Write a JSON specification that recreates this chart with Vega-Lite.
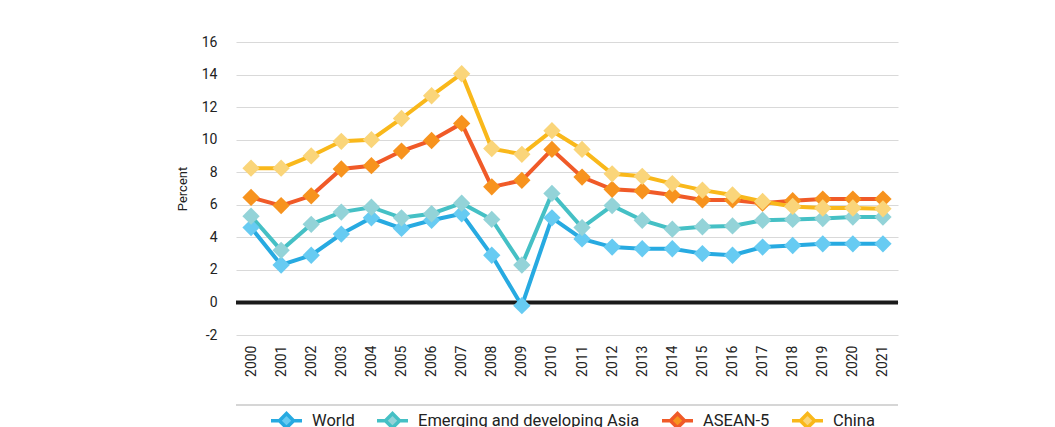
{
  "$schema": "https://vega.github.io/schema/vega-lite/v6.json",
  "width": 662,
  "height": 293,
  "autosize": {"type": "none"},
  "padding": {"left": 236, "top": 42, "right": 157, "bottom": 92},
  "background": "white",
  "config": {
    "font": "Roboto",
    "view": {"stroke": null},
    "axis": {"labelFont": "Roboto", "labelFontSize": 14, "labelColor": "#222222", "titleFont": "Roboto", "titleColor": "#222222"},
    "axisX": {"labelAngle": -90, "labelPadding": 10, "domain": false, "ticks": false, "grid": false, "labelOverlap": false},
    "axisY": {"domain": false, "ticks": false, "grid": true, "gridColor": "#d9d9d9", "gridWidth": 1, "labelPadding": 19, "labelOverlap": false, "tickCount": 30,
              "titleFontSize": 13, "titleFontWeight": "normal", "titlePadding": 12},
    "legend": {"labelLimit": 500}
  },
  "data": {"values": [
    {"year": "2000", "series": "World", "value": 4.6},
    {"year": "2001", "series": "World", "value": 2.3},
    {"year": "2002", "series": "World", "value": 2.9},
    {"year": "2003", "series": "World", "value": 4.2},
    {"year": "2004", "series": "World", "value": 5.2},
    {"year": "2005", "series": "World", "value": 4.55},
    {"year": "2006", "series": "World", "value": 5.05},
    {"year": "2007", "series": "World", "value": 5.45},
    {"year": "2008", "series": "World", "value": 2.9},
    {"year": "2009", "series": "World", "value": -0.2},
    {"year": "2010", "series": "World", "value": 5.2},
    {"year": "2011", "series": "World", "value": 3.9},
    {"year": "2012", "series": "World", "value": 3.4},
    {"year": "2013", "series": "World", "value": 3.3},
    {"year": "2014", "series": "World", "value": 3.3},
    {"year": "2015", "series": "World", "value": 3.0},
    {"year": "2016", "series": "World", "value": 2.9},
    {"year": "2017", "series": "World", "value": 3.4},
    {"year": "2018", "series": "World", "value": 3.5},
    {"year": "2019", "series": "World", "value": 3.6},
    {"year": "2020", "series": "World", "value": 3.6},
    {"year": "2021", "series": "World", "value": 3.6},
    {"year": "2000", "series": "Emerging and developing Asia", "value": 5.3},
    {"year": "2001", "series": "Emerging and developing Asia", "value": 3.2},
    {"year": "2002", "series": "Emerging and developing Asia", "value": 4.8},
    {"year": "2003", "series": "Emerging and developing Asia", "value": 5.55},
    {"year": "2004", "series": "Emerging and developing Asia", "value": 5.85},
    {"year": "2005", "series": "Emerging and developing Asia", "value": 5.2},
    {"year": "2006", "series": "Emerging and developing Asia", "value": 5.45},
    {"year": "2007", "series": "Emerging and developing Asia", "value": 6.1},
    {"year": "2008", "series": "Emerging and developing Asia", "value": 5.1},
    {"year": "2009", "series": "Emerging and developing Asia", "value": 2.3},
    {"year": "2010", "series": "Emerging and developing Asia", "value": 6.7},
    {"year": "2011", "series": "Emerging and developing Asia", "value": 4.6},
    {"year": "2012", "series": "Emerging and developing Asia", "value": 5.95},
    {"year": "2013", "series": "Emerging and developing Asia", "value": 5.05},
    {"year": "2014", "series": "Emerging and developing Asia", "value": 4.5},
    {"year": "2015", "series": "Emerging and developing Asia", "value": 4.65},
    {"year": "2016", "series": "Emerging and developing Asia", "value": 4.7},
    {"year": "2017", "series": "Emerging and developing Asia", "value": 5.05},
    {"year": "2018", "series": "Emerging and developing Asia", "value": 5.1},
    {"year": "2019", "series": "Emerging and developing Asia", "value": 5.15},
    {"year": "2020", "series": "Emerging and developing Asia", "value": 5.25},
    {"year": "2021", "series": "Emerging and developing Asia", "value": 5.25},
    {"year": "2000", "series": "ASEAN-5", "value": 6.45},
    {"year": "2001", "series": "ASEAN-5", "value": 5.95},
    {"year": "2002", "series": "ASEAN-5", "value": 6.55},
    {"year": "2003", "series": "ASEAN-5", "value": 8.2},
    {"year": "2004", "series": "ASEAN-5", "value": 8.4},
    {"year": "2005", "series": "ASEAN-5", "value": 9.3},
    {"year": "2006", "series": "ASEAN-5", "value": 9.95},
    {"year": "2007", "series": "ASEAN-5", "value": 11.0},
    {"year": "2008", "series": "ASEAN-5", "value": 7.1},
    {"year": "2009", "series": "ASEAN-5", "value": 7.5},
    {"year": "2010", "series": "ASEAN-5", "value": 9.4},
    {"year": "2011", "series": "ASEAN-5", "value": 7.7},
    {"year": "2012", "series": "ASEAN-5", "value": 6.95},
    {"year": "2013", "series": "ASEAN-5", "value": 6.85},
    {"year": "2014", "series": "ASEAN-5", "value": 6.6},
    {"year": "2015", "series": "ASEAN-5", "value": 6.3},
    {"year": "2016", "series": "ASEAN-5", "value": 6.3},
    {"year": "2017", "series": "ASEAN-5", "value": 6.1},
    {"year": "2018", "series": "ASEAN-5", "value": 6.25},
    {"year": "2019", "series": "ASEAN-5", "value": 6.35},
    {"year": "2020", "series": "ASEAN-5", "value": 6.35},
    {"year": "2021", "series": "ASEAN-5", "value": 6.35},
    {"year": "2000", "series": "China", "value": 8.25},
    {"year": "2001", "series": "China", "value": 8.25},
    {"year": "2002", "series": "China", "value": 9.0},
    {"year": "2003", "series": "China", "value": 9.9},
    {"year": "2004", "series": "China", "value": 10.0},
    {"year": "2005", "series": "China", "value": 11.3},
    {"year": "2006", "series": "China", "value": 12.7},
    {"year": "2007", "series": "China", "value": 14.05},
    {"year": "2008", "series": "China", "value": 9.45},
    {"year": "2009", "series": "China", "value": 9.1},
    {"year": "2010", "series": "China", "value": 10.55},
    {"year": "2011", "series": "China", "value": 9.4},
    {"year": "2012", "series": "China", "value": 7.9},
    {"year": "2013", "series": "China", "value": 7.75},
    {"year": "2014", "series": "China", "value": 7.3},
    {"year": "2015", "series": "China", "value": 6.9},
    {"year": "2016", "series": "China", "value": 6.6},
    {"year": "2017", "series": "China", "value": 6.2},
    {"year": "2018", "series": "China", "value": 5.9},
    {"year": "2019", "series": "China", "value": 5.8},
    {"year": "2020", "series": "China", "value": 5.8},
    {"year": "2021", "series": "China", "value": 5.75}
  ]},
  "layer": [
    {
      "data": {"values": [{"ref": "separator"}]},
      "mark": {"type": "rule", "color": "#c8c8c8", "strokeWidth": 1.5},
      "encoding": {"y": {"datum": -6.3, "scale": {"domain": [-2, 16], "nice": false},
                         "axis": {"values": [-2, 0, 2, 4, 6, 8, 10, 12, 14, 16], "tickCount": 30, "labelExpr": "datum.value + ''", "title": "Percent"}}}
    },
    {
      "data": {"values": [{"ref": "zero"}]},
      "mark": {"type": "rule", "color": "#1a1a1a", "strokeWidth": 4},
      "encoding": {"y": {"datum": 0, "scale": {"domain": [-2, 16], "nice": false}}}
    },
    {
      "mark": {"type": "line", "strokeWidth": 4},
      "encoding": {
        "x": {"field": "year", "type": "ordinal", "scale": {"type": "point", "padding": 0.5}, "axis": {"title": null}},
        "y": {"field": "value", "type": "quantitative", "scale": {"domain": [-2, 16], "nice": false},
              "axis": {"values": [-2, 0, 2, 4, 6, 8, 10, 12, 14, 16], "tickCount": 30, "labelExpr": "datum.value + ''", "title": "Percent"}},
        "stroke": {"field": "series", "type": "nominal",
                   "scale": {"domain": ["World", "Emerging and developing Asia", "ASEAN-5", "China"], "range": ["#27aae1", "#45c0c5", "#f05a28", "#f9b81b"]},
                   "legend": {"orient": "none", "legendX": 33, "legendY": 361, "direction": "horizontal", "title": null, "labelFontSize": 16.5, "labelFont": "Roboto", "labelColor": "#222222", "labelLimit": 500,
                              "symbolType": "M-1,0L-0.5,0M0.5,0L1,0M0,-0.46L0.46,0L0,0.46L-0.46,0Z", "symbolSize": 961, "symbolStrokeWidth": 3.5,
                              "columnPadding": 15, "labelOffset": 8, "padding": 0}}
      }
    },
    {
      "mark": {"type": "point", "shape": "diamond", "filled": true, "size": 300, "opacity": 1},
      "encoding": {
        "x": {"field": "year", "type": "ordinal"},
        "y": {"field": "value", "type": "quantitative"},
        "fill": {"field": "series", "type": "nominal",
                 "scale": {"domain": ["World", "Emerging and developing Asia", "ASEAN-5", "China"], "range": ["#67cbf2", "#93d3d8", "#f7931e", "#fad57a"]},
                 "legend": {"orient": "none", "legendX": 33, "legendY": 361, "direction": "horizontal", "title": null, "labelFontSize": 16.5, "labelFont": "Roboto", "labelColor": "#222222", "labelLimit": 500,
                            "symbolType": "M-1,0L-0.5,0M0.5,0L1,0M0,-0.46L0.46,0L0,0.46L-0.46,0Z", "symbolSize": 961, "symbolStrokeWidth": 3.5,
                            "columnPadding": 15, "labelOffset": 8, "padding": 0}}
      }
    }
  ]
}
